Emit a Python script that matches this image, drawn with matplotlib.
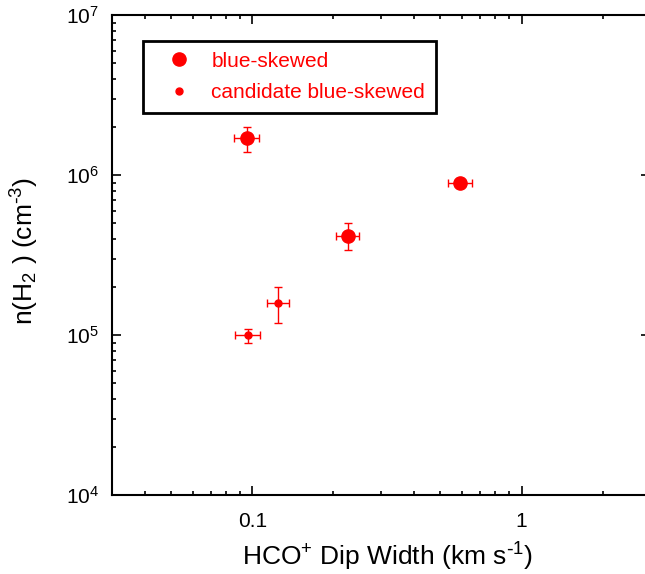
import numpy as np
import matplotlib
matplotlib.use("Agg")
from matplotlib import pyplot as plt
from matplotlib.lines import Line2D
from matplotlib.ticker import FixedLocator, LogLocator, NullFormatter

plt.rcParams['font.family'] = ['Liberation Sans', 'DejaVu Sans']
plt.rcParams['mathtext.default'] = 'regular'

# blue-skewed sources
blue_w = [0.0956, 0.227, 0.592]
blue_werr = [0.010, 0.022, 0.06]
blue_n = [1.70e6, 4.2e5, 9.0e5]
blue_nerr = [0.30e6, 0.08e6, 0.0]

# candidate blue-skewed sources
cand_w = [0.0965, 0.125]
cand_werr = [0.010, 0.012]
cand_n = [1.0e5, 1.6e5]
cand_nerr = [0.1e5, 0.4e5]

red = '#ff0000'

fig = plt.figure(figsize=(6.45, 5.74), dpi=100)
ax = fig.add_axes([111.5 / 645, 1 - 495.3 / 574, 538.5 / 645, 480 / 574])

ax.errorbar(blue_w, blue_n, xerr=blue_werr, yerr=blue_nerr, fmt='o', color=red,
            ms=9.5, ecolor=red, elinewidth=1, capsize=3, capthick=1)
ax.errorbar(cand_w, cand_n, xerr=cand_werr, yerr=cand_nerr, fmt='o', color=red,
            ms=5, ecolor=red, elinewidth=1, capsize=3, capthick=1)

ax.set_xscale('log')
ax.set_yscale('log')
ax.set_xlim(0.03, 3)
ax.set_ylim(1e4, 1e7)

ax.xaxis.set_major_locator(FixedLocator([0.1, 1]))
ax.set_xticklabels(['0.1', '1'])
ax.xaxis.set_minor_locator(LogLocator(base=10, subs=np.arange(2, 10)))
ax.xaxis.set_minor_formatter(NullFormatter())
ax.yaxis.set_major_locator(FixedLocator([1e4, 1e5, 1e6, 1e7]))
ax.set_yticklabels(['10$^{4}$', '10$^{5}$', '10$^{6}$', '10$^{7}$'])
ax.yaxis.set_minor_locator(LogLocator(base=10, subs=np.arange(2, 10)))
ax.yaxis.set_minor_formatter(NullFormatter())

ax.tick_params(which='both', direction='in', top=True, right=True, width=1.2)
ax.tick_params(which='major', length=6.5, labelsize=15)
ax.tick_params(which='minor', length=3)
ax.tick_params(axis='x', pad=12)
ax.tick_params(axis='y', pad=9)
for s in ax.spines.values():
    s.set_linewidth(1.5)

ax.set_xlabel('HCO$^{+}$ Dip Width (km s$^{\\text{-}1}$)', fontsize=19)
ax.set_ylabel('n(H$_{2}$ ) (cm$^{\\text{-}3}$)', fontsize=19)
ax.xaxis.set_label_coords(0.512, -0.095)
ax.yaxis.set_label_coords(-0.13, 0.51)

handles = [Line2D([], [], ls='none', marker='o', ms=9.5, color=red),
           Line2D([], [], ls='none', marker='o', ms=5, color=red)]
labels = ['blue-skewed', 'candidate blue-skewed']
leg = ax.legend(handles, labels, loc='upper left', bbox_to_anchor=(0.058, 0.946),
                borderaxespad=0, fontsize=15, fancybox=False, edgecolor='black',
                framealpha=1, borderpad=0.5, handlelength=2.5, handletextpad=0.3,
                labelspacing=0.6)
leg.get_frame().set_linewidth(2)
for t in leg.get_texts():
    t.set_color(red)

fig.savefig('out.png', dpi=100)
